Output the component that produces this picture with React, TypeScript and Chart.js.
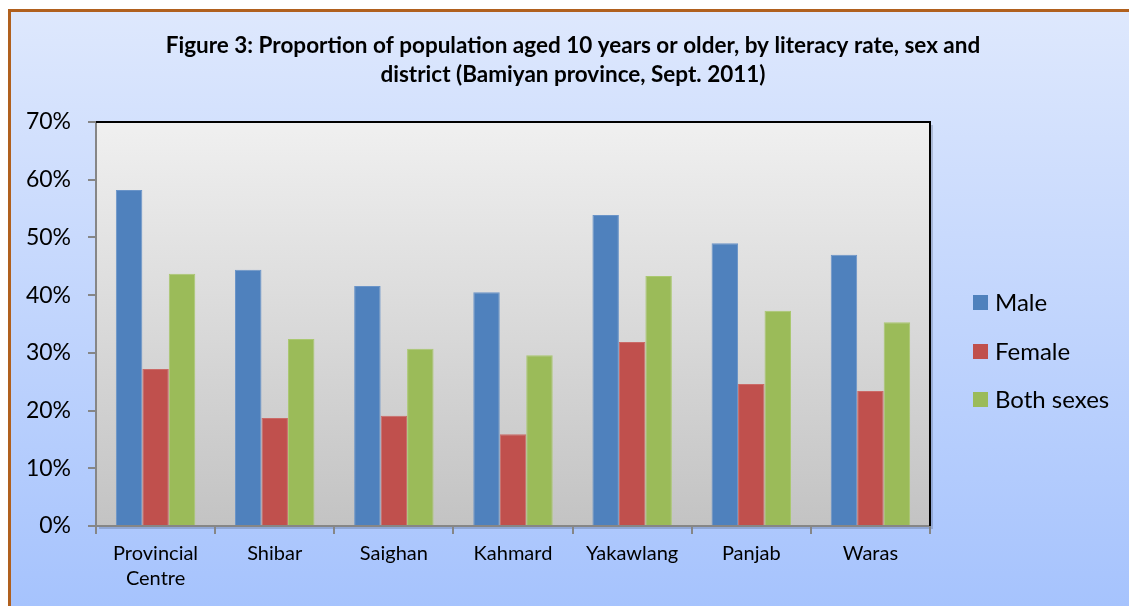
import { useEffect, useRef } from "react";
import { Chart, registerables } from "chart.js";

Chart.register(...registerables);

const categories: (string | string[])[] = [
  ["Provincial", "Centre"],
  "Shibar",
  "Saighan",
  "Kahmard",
  "Yakawlang",
  "Panjab",
  "Waras",
];
const maleValues = [58.2, 44.4, 41.6, 40.5, 53.9, 49.0, 47.0];
const femaleValues = [27.2, 18.7, 19.1, 15.9, 31.9, 24.6, 23.4];
const bothValues = [43.7, 32.4, 30.7, 29.6, 43.3, 37.3, 35.3];
const seriesNames = ["Male", "Female", "Both sexes"];
const seriesColors = ["#4f81bd", "#c0504d", "#9bbb59"];
const seriesBorders = ["#6a94c8", "#cb6a67", "#aac870"];
const titleLines = [
  "Figure 3: Proportion of population aged 10 years or older, by literacy rate, sex and",
  "district (Bamiyan province, Sept. 2011)",
];
const yMax = 70;
const yStep = 10;

const FONT = "Lato, 'Open Sans', 'DejaVu Sans', sans-serif";

const decorPlugin = {
  id: "decor",
  beforeDraw(chart: any) {
    const { ctx, width, height, chartArea: ca } = chart;
    ctx.save();
    ctx.fillStyle = "#ffffff";
    ctx.fillRect(0, 0, width, height);
    const g = ctx.createLinearGradient(0, 10, 0, height);
    g.addColorStop(0, "#dee8fd");
    g.addColorStop(1, "#a6c3fd");
    ctx.fillStyle = g;
    ctx.fillRect(9, 10, width - 9, height - 10);
    ctx.strokeStyle = "#b0601e";
    ctx.lineWidth = 3;
    ctx.beginPath();
    ctx.moveTo(9.5, height);
    ctx.lineTo(9.5, 10.5);
    ctx.lineTo(width, 10.5);
    ctx.stroke();

    // plot area shadow + gradient fill
    ctx.fillStyle = "rgba(60,70,100,0.25)";
    ctx.fillRect(ca.left + 3, ca.top + 3, ca.right - ca.left, ca.bottom - ca.top);
    const g2 = ctx.createLinearGradient(0, ca.top, 0, ca.bottom);
    g2.addColorStop(0, "#f0f0f0");
    g2.addColorStop(1, "#c3c3c3");
    ctx.fillStyle = g2;
    ctx.fillRect(ca.left, ca.top, ca.right - ca.left, ca.bottom - ca.top);

    // title
    ctx.fillStyle = "#000000";
    ctx.font = `bold 22.5px ${FONT}`;
    ctx.textAlign = "center";
    ctx.textBaseline = "middle";
    ctx.fillText(titleLines[0], 573, 46);
    ctx.fillText(titleLines[1], 573, 75);
    ctx.restore();
  },
  afterDatasetsDraw(chart: any) {
    const { ctx, chartArea: ca } = chart;
    ctx.save();
    ctx.strokeStyle = "#000000";
    ctx.lineWidth = 2;
    ctx.beginPath();
    ctx.moveTo(ca.left, ca.top);
    ctx.lineTo(ca.right, ca.top);
    ctx.lineTo(ca.right, ca.bottom);
    ctx.stroke();
    ctx.restore();
  },
  afterDraw(chart: any) {
    const { ctx } = chart;
    ctx.save();
    ctx.font = `24px ${FONT}`;
    ctx.textAlign = "left";
    ctx.textBaseline = "middle";
    const ys = [302, 351, 399];
    seriesNames.forEach((name, i) => {
      ctx.fillStyle = seriesColors[i];
      ctx.fillRect(973, ys[i] - 7, 15, 15);
      ctx.fillStyle = "#000000";
      ctx.fillText(name, 995, ys[i] + 1);
    });
    ctx.restore();
  },
};

export default function App() {
  const ref = useRef<HTMLCanvasElement | null>(null);
  useEffect(() => {
    if (!ref.current) return;
    const data = [maleValues, femaleValues, bothValues];
    const chart = new Chart(ref.current, {
      type: "bar",
      data: {
        labels: categories,
        datasets: data.map((vals, i) => ({
          label: seriesNames[i],
          data: vals,
          backgroundColor: seriesColors[i],
          borderColor: seriesBorders[i],
          borderWidth: 1,
          categoryPercentage: 3 / 4.5,
          barPercentage: 1,
        })),
      },
      options: {
        responsive: false,
        animation: false,
        devicePixelRatio: 1,
        layout: { padding: { top: 122, right: 199, left: 0, bottom: 0 } },
        plugins: {
          legend: { display: false },
          title: { display: false },
          tooltip: { enabled: false },
        },
        scales: {
          x: {
            grid: {
              offset: true,
              drawOnChartArea: false,
              drawTicks: true,
              tickLength: 8,
              color: "#868686",
              lineWidth: 2,
            },
            border: { display: true, color: "#868686", width: 2 },
            ticks: {
              color: "#000000",
              font: { family: FONT, size: 20, lineHeight: 1.25 },
              padding: 7,
              maxRotation: 0,
              autoSkip: false,
            },
            afterFit: (scale: any) => {
              scale.height = 80;
            },
          },
          y: {
            min: 0,
            max: yMax,
            grid: {
              drawOnChartArea: false,
              drawTicks: true,
              tickLength: 8,
              color: "#868686",
              lineWidth: 2,
            },
            border: { display: true, color: "#868686", width: 2 },
            ticks: {
              stepSize: yStep,
              color: "#000000",
              font: { family: FONT, size: 23 },
              padding: 17,
              callback: (v: any) => `${v}%`,
            },
            afterFit: (scale: any) => {
              scale.width = 96;
            },
          },
        },
      },
      plugins: [decorPlugin],
    });
    return () => chart.destroy();
  }, []);
  return (
    <div style={{ position: "fixed", left: 0, top: 0, width: 1129, height: 606 }}>
      <canvas ref={ref} width={1129} height={606} style={{ display: "block" }} />
    </div>
  );
}
